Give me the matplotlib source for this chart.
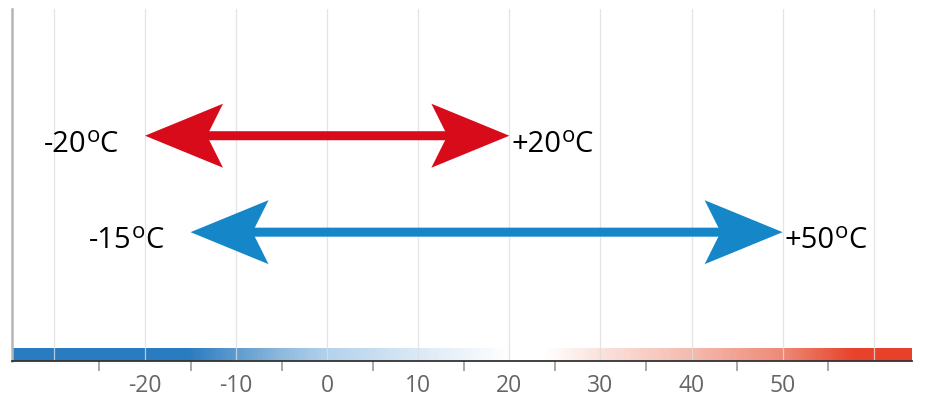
import numpy as np
import matplotlib
matplotlib.use('Agg')
import matplotlib.pyplot as plt
from matplotlib.colors import LinearSegmentedColormap, Normalize
from matplotlib.patches import Polygon
import matplotlib.transforms as mtransforms

plt.rcParams['font.family'] = ['Open Sans', 'DejaVu Sans']

# temperature ranges (min, max) drawn as double arrows
range_min = [-20, -15]
range_max = [20, 50]
range_color = ['#d80b1b', '#1587c9']
range_row = [0.64, 0.366]   # vertical row of each arrow (axes fraction)

# axis
x_min, x_max = -34.6, 64.2
tick_vals = [-20, -10, 0, 10, 20, 30, 40, 50]
minor_vals = [-25, -15, -5, 5, 15, 25, 35, 45, 55]
grid_vals = [-30, -20, -10, 0, 10, 20, 30, 40, 50, 60]

# colour band along the bottom (value, colour)
band_vals = [x_min, -15.5, -5, 0, 10, 20, 24, 30, 40, 50, 58, x_max]
band_cols = ['#2a7bc0', '#2a7bc0', '#8fbade', '#b3d2ec', '#dbe9f5', '#ffffff',
             '#ffffff', '#fbe3dd', '#f5bbb0', '#ee8b77', '#e8432c', '#e8412a']

fig = plt.figure(figsize=(9.26, 4.10), dpi=100)
ax = fig.add_axes([12 / 926, 48 / 410, 900 / 926, 352 / 410])
ax.set_xlim(x_min, x_max)
ax.set_ylim(0, 1)

# gradient band
pos = [(v - x_min) / (x_max - x_min) for v in band_vals]
cmap = LinearSegmentedColormap.from_list('temp', list(zip(pos, band_cols)))
grad = np.linspace(x_min, x_max, 600).reshape(1, -1)
band_h = 13 / 352
ax.imshow(grad, cmap=cmap, norm=Normalize(x_min, x_max), aspect='auto',
          extent=[x_min, x_max, 0, band_h], zorder=1)

for g in grid_vals:
    ax.axvline(g, color='#dedede', lw=0.9, alpha=0.8, zorder=1.5)

big, small = 21, 16


def temp_label(value, sign, x, y, left):
    # number, raised small "o", then "C"
    num = '%s%d' % (sign, abs(value))
    if left:
        tc = ax.annotate('C', xy=(x, y), xytext=(-27, -15), textcoords='offset pixels',
                         ha='right', va='baseline', fontsize=big)
        to = ax.annotate('o', xy=(0, 1), xycoords=tc, xytext=(0, 4),
                         textcoords='offset pixels', ha='right', va='top', fontsize=small)
        ax.annotate(num, xy=(0, 0), xycoords=(to, tc), xytext=(0, 0),
                    textcoords='offset pixels', ha='right', va='bottom', fontsize=big)
    else:
        tn = ax.annotate(num, xy=(x, y), xytext=(2, -15), textcoords='offset pixels',
                         ha='left', va='baseline', fontsize=big)
        to = ax.annotate('o', xy=(1, 1), xycoords=tn, xytext=(0, 4),
                         textcoords='offset pixels', ha='left', va='top', fontsize=small)
        ax.annotate('C', xy=(1, 0), xycoords=(to, tn), xytext=(0, 0),
                    textcoords='offset pixels', ha='left', va='bottom', fontsize=big)


# arrows
head_len, head_half, notch = 0.78, 0.32, 0.16   # inches
shrink = (head_len - notch - 0.02) * 72          # points
for lo, hi, c, yy in zip(range_min, range_max, range_color, range_row):
    ax.annotate('', xy=(hi, yy), xytext=(lo, yy),
                arrowprops=dict(arrowstyle='-', color=c, lw=6.5, shrinkA=shrink,
                                shrinkB=shrink, capstyle='butt'), zorder=3)
    for tip, d in [(lo, 1), (hi, -1)]:
        tr = fig.dpi_scale_trans + mtransforms.ScaledTranslation(tip, yy, ax.transData)
        verts = [(0, 0), (d * head_len, head_half), (d * (head_len - notch), 0),
                 (d * head_len, -head_half)]
        ax.add_patch(Polygon(verts, closed=True, facecolor=c, edgecolor='none',
                             transform=tr, zorder=4))
    temp_label(lo, '-', lo, yy, True)
    temp_label(hi, '+', hi, yy, False)

ax.set_yticks([])
ax.set_xticks(tick_vals)
ax.set_xticklabels([str(t) for t in tick_vals])
ax.set_xticks(minor_vals, minor=True)
ax.tick_params(axis='x', which='major', length=0, pad=9, labelsize=16.5, labelcolor='#666666')
ax.tick_params(axis='x', which='minor', length=7, width=1.2, color='#999999', direction='out')

for s in ['top', 'right']:
    ax.spines[s].set_visible(False)
ax.spines['left'].set_color('#b5b5b5')
ax.spines['left'].set_linewidth(1.8)
ax.spines['bottom'].set_color('#333333')
ax.spines['bottom'].set_linewidth(1.3)
ax.spines['bottom'].set_zorder(5)

fig.savefig('out.png', dpi=100)
